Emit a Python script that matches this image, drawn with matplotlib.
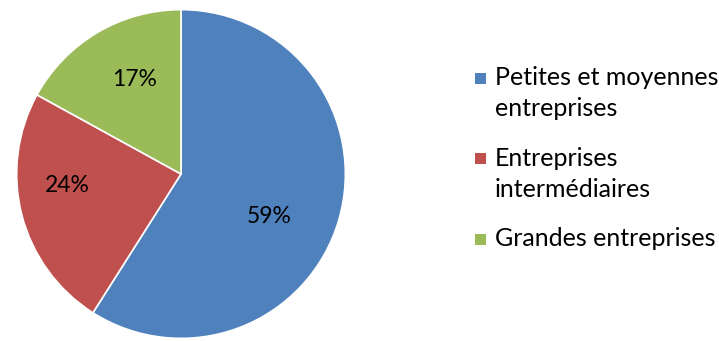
import matplotlib
matplotlib.use("Agg")
import matplotlib.pyplot as plt
from matplotlib.patches import Rectangle
import numpy as np

categories = ["Petites et moyennes\nentreprises", "Entreprises\nintermédiaires", "Grandes entreprises"]
shares = [59, 24, 17]
colors = ["#4F81BD", "#C0504D", "#9BBB59"]
# label placement: fraction of radius and angular nudge (degrees) from wedge middle
label_radius = [0.595, 0.697, 0.643]
label_nudge = [-9.6, -8.5, -4.5]

plt.rcParams["font.family"] = ["Lato", "DejaVu Sans"]

W, H = 719, 341
fig = plt.figure(figsize=(W / 100, H / 100), dpi=100)
cx, cy, r = 181, 174, 166
ax = fig.add_axes([(cx - r) / W, (H - cy - r) / H, 2 * r / W, 2 * r / H])

wedges, texts, autotexts = ax.pie(
    shares, colors=colors, startangle=90, counterclock=False,
    autopct=lambda p: f"{p:.0f}%", pctdistance=0.65,
    wedgeprops=dict(edgecolor="white", linewidth=1.2),
    textprops=dict(fontsize=16.5, color="black"),
)
for w, t, rr, dn in zip(wedges, autotexts, label_radius, label_nudge):
    ang = np.deg2rad((w.theta1 + w.theta2) / 2 + dn)
    t.set_position((rr * np.cos(ang), rr * np.sin(ang)))
ax.set_xlim(-1.01, 1.01)
ax.set_ylim(-1.01, 1.01)
ax.set_aspect("equal")
ax.axis("off")

# legend: square key aligned with the first line of each label
entry_base = [85, 165.5, 246]   # first-line baselines, px from top
for base, label, col in zip(entry_base, categories, colors):
    fig.patches.append(Rectangle((475 / W, 1 - (base - 1.5) / H), 11 / W, 11 / H,
                                 transform=fig.transFigure, facecolor=col,
                                 edgecolor="none"))
    lines = label.split("\n")
    for i, line in enumerate(lines):
        fig.text(495 / W, 1 - (base + 31 * i) / H, line, fontsize=18,
                 va="baseline", ha="left")

fig.savefig("out.png", dpi=100, facecolor="white")
